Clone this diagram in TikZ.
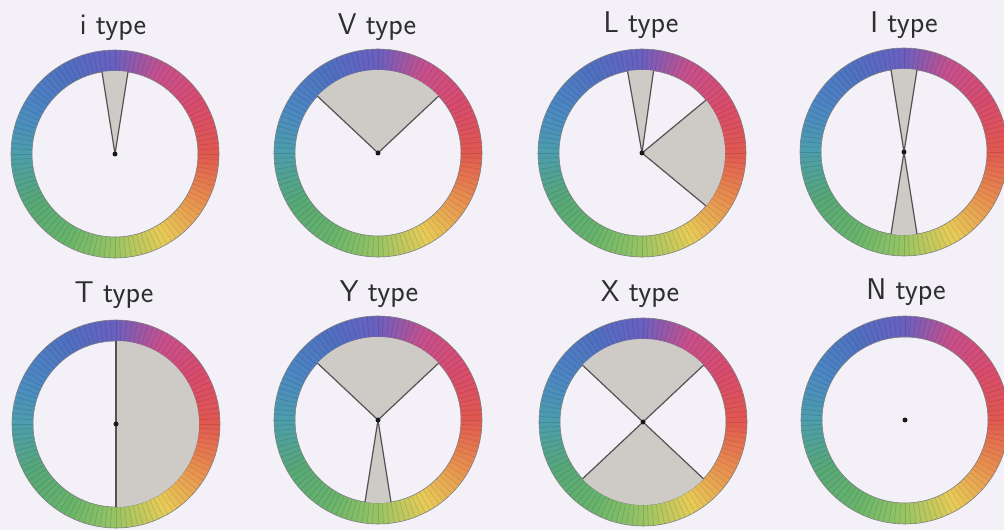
\documentclass[tikz,border=0pt]{standalone}
\usetikzlibrary{calc}
\definecolor{bgcol}{RGB}{243,240,247}
\definecolor{k0}{HTML}{6A60C0}
\definecolor{k1}{HTML}{C8508C}
\definecolor{k2}{HTML}{D84C6C}
\definecolor{k3}{HTML}{E05850}
\definecolor{k4}{HTML}{E89050}
\definecolor{k5}{HTML}{E8CC58}
\definecolor{k6}{HTML}{98C464}
\definecolor{k7}{HTML}{68B46C}
\definecolor{k8}{HTML}{58A878}
\definecolor{k9}{HTML}{4C9EAC}
\definecolor{k10}{HTML}{4C86C4}
\definecolor{k11}{HTML}{5070C0}
\definecolor{fangray}{RGB}{206,202,198}
\def\Ro{104}
\def\Ri{83}
\newcommand\colorring[1]{%
  \begin{scope}[shift={(#1)}]
    \foreach \a/\ca/\cb in {90/k0/k1,60/k1/k2,30/k2/k3,0/k3/k4,-30/k4/k5,-60/k5/k6,-90/k6/k7,-120/k7/k8,-150/k8/k9,-180/k9/k10,-210/k10/k11,-240/k11/k0}{
      \foreach \j in {0,...,9}{
        \pgfmathsetmacro\aa{\a-3*\j+0.4}
        \pgfmathsetmacro\ab{\a-3*\j-3}
        \pgfmathtruncatemacro\p{95-10*\j}
        \fill[color=\ca!\p!\cb] (\aa:\Ro) arc[start angle=\aa,end angle=\ab,radius=\Ro] -- (\ab:\Ri) arc[start angle=\ab,end angle=\aa,radius=\Ri] -- cycle;
      }
    }
    \foreach \t in {0,3,...,357}{\draw[tickline] (\t:\Ri) -- (\t:\Ro);}
    \draw[ringedge] (0,0) circle[radius=\Ro];
    \draw[ringedge] (0,0) circle[radius=\Ri];
  \end{scope}}
\newcommand\grayfan[3]{%
  \fill[fangray] (#1) -- ($(#1)+(#2:\Ri)$) arc[start angle=#2,end angle=#3,radius=\Ri] -- cycle;
  \draw[fanline] ($(#1)+(#2:\Ri)$) -- (#1) -- ($(#1)+(#3:\Ri)$);}
\begin{document}
\begin{tikzpicture}[x=1pt,y=1pt,
  tickline/.style={black,opacity=0.13,line width=0.6pt},
  ringedge/.style={black!50,line width=0.6pt},
  fanline/.style={black!68,line width=1.2pt,line join=round},
  lbl/.style={anchor=base,inner sep=0pt,text=black!82,font=\fontsize{30}{36}\selectfont\sffamily},
  cdot/.style={circle,fill=black!90,inner sep=0pt,minimum size=5pt}]
\useasboundingbox (0,0) rectangle (1004,530);
\fill[bgcol] (0,0) rectangle (1004,530);
\coordinate (c1) at (115,376);
\coordinate (c2) at (378,377);
\coordinate (c3) at (642,377);
\coordinate (c4) at (904,378);
\coordinate (c5) at (116,106);
\coordinate (c6) at (378,110);
\coordinate (c7) at (643,108);
\coordinate (c8) at (905,110);
\foreach \c in {c1,c2,c3,c4,c5,c6,c7,c8}{\colorring{\c}}
% i type
\grayfan{c1}{81}{99}
% V type
\grayfan{c2}{43.2}{136.8}
% L type
\grayfan{c3}{82}{100}
\grayfan{c3}{-39.6}{39.6}
% I type
\grayfan{c4}{81}{99}
\grayfan{c4}{261}{279}
% T type
\grayfan{c5}{-90}{90}
% Y type
\grayfan{c6}{43.2}{136.8}
\grayfan{c6}{261}{279}
% X type
\grayfan{c7}{43.2}{136.8}
\grayfan{c7}{223.2}{316.8}
\foreach \c in {1,...,8}{\node[cdot] (d\c) at (c\c) {};}
\node[lbl] (t1) at (113,495) {i type};
\node[lbl] (t2) at (377,495) {V type};
\node[lbl] (t3) at (641,497) {L type};
\node[lbl] (t4) at (904,497) {I type};
\node[lbl] (t5) at (114,227) {T type};
\node[lbl] (t6) at (379,228) {Y type};
\node[lbl] (t7) at (640,228) {X type};
\node[lbl] (t8) at (906,230) {N type};
\end{tikzpicture}
\end{document}
